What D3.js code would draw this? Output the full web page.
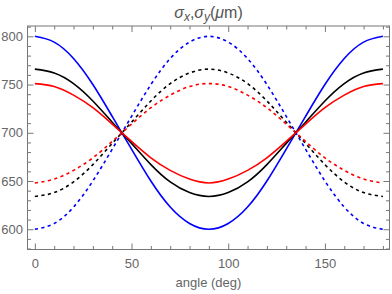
<!DOCTYPE html>
<html>
<head>
<meta charset="utf-8">
<script src="https://cdn.jsdelivr.net/npm/d3@7"></script>
<style>
  body { margin: 0; background: #fff; }
  svg { display: block; font-family: "Liberation Sans", Arial, sans-serif; }
  .axis path { display: none; }
  .axis line { stroke: #777; }
  .axis text { fill: #666; font-size: 13px; }
</style>
</head>
<body>
<svg id="plot01" width="392" height="294"></svg>
<script>
// angles sampled every 10 deg
var angles = [0, 10, 20, 30, 40, 50, 60, 70, 80, 90, 100, 110, 120, 130, 140, 150, 160, 170, 180];

// sigma_x (solid) and sigma_y (dashed), in um
var blueX  = [800, 794, 777, 750, 717, 683, 650, 623, 606, 600, 606, 623, 650, 683, 717, 750, 777, 794, 800];
var blueY  = [600, 606, 623, 650, 683, 717, 750, 777, 794, 800, 794, 777, 750, 717, 683, 650, 623, 606, 600];
var blackX = [766, 762, 751, 733, 711, 689, 667, 649, 638, 634, 638, 649, 667, 689, 711, 733, 751, 762, 766];
var blackY = [634, 638, 649, 667, 689, 711, 733, 751, 762, 766, 762, 751, 733, 711, 689, 667, 649, 638, 634];
var redX   = [751, 748, 739, 726, 709, 691, 674, 661, 652, 648, 652, 661, 674, 691, 709, 726, 739, 748, 751];
var redY   = [648, 652, 661, 674, 691, 709, 726, 739, 748, 751, 748, 739, 726, 709, 691, 674, 661, 652, 648];

var xTicks = [0, 50, 100, 150];
var yTicks = [600, 650, 700, 750, 800];

var series = [
  { values: blueY, color: '#0000ff', dashed: true },
  { values: blackY, color: '#000000', dashed: true },
  { values: redY, color: '#ff0000', dashed: true },
  { values: blueX, color: '#0000ff', dashed: false },
  { values: blackX, color: '#000000', dashed: false },
  { values: redX, color: '#ff0000', dashed: false }
];

// plot box (note: "top" is reserved on window, so prefix everything)
var plotL = 27.5, plotR = 389.5, plotT = 26, plotB = 249.5;

var svg = d3.select('#plot01');

var x = d3.scaleLinear().domain([-3.8, 183.4]).range([plotL, plotR]);
var y = d3.scaleLinear().domain([579, 810.7]).range([plotB, plotT]);

var xMinor = d3.range(0, 181, 10).filter(function(v) { return v % 50 !== 0; });
var yMinor = d3.range(580, 811, 10).filter(function(v) { return v % 50 !== 0; });

function addAxis(axisFn, scale, pos, values, size, labels) {
  var a = axisFn(scale).tickValues(values).tickSizeInner(-size).tickSizeOuter(0).tickPadding(labels ? 5 : 0);
  if (!labels) a.tickFormat('');
  var g = svg.append('g').attr('class', 'axis').attr('transform', pos);
  g.call(a);
  return g;
}

// bottom
var gb = addAxis(d3.axisBottom, x, 'translate(0,' + plotB + ')', xTicks, 6, true);
gb.selectAll('text').attr('y', 6).attr('dy', '0.95em');
addAxis(d3.axisBottom, x, 'translate(0,' + plotB + ')', xMinor, 3.5, false);
// top
addAxis(d3.axisTop, x, 'translate(0,' + plotT + ')', xTicks, 6, false);
addAxis(d3.axisTop, x, 'translate(0,' + plotT + ')', xMinor, 3.5, false);
// left
var gl = addAxis(d3.axisLeft, y, 'translate(' + plotL + ',0)', yTicks, 6, true);
gl.selectAll('text').attr('x', -4.5);
addAxis(d3.axisLeft, y, 'translate(' + plotL + ',0)', yMinor, 3.5, false);
// right
addAxis(d3.axisRight, y, 'translate(' + plotR + ',0)', yTicks, 6, false);
addAxis(d3.axisRight, y, 'translate(' + plotR + ',0)', yMinor, 3.5, false);

// frame
svg.append('rect')
  .attr('x', plotL).attr('y', plotT)
  .attr('width', plotR - plotL).attr('height', plotB - plotT)
  .attr('fill', 'none').attr('stroke', '#777').attr('stroke-width', 1);

var line = d3.line()
  .x(function(d, i) { return x(angles[i]); })
  .y(function(d) { return y(d); })
  .curve(d3.curveNatural);

svg.append('g').selectAll('path')
  .data(series)
  .enter()
  .append('path')
  .attr('d', function(d) { return line(d.values); })
  .attr('fill', 'none')
  .attr('stroke', function(d) { return d.color; })
  .attr('stroke-width', 1.6)
  .attr('stroke-dasharray', function(d) { return d.dashed ? '3.2,3.4' : null; });

// title
var title = svg.append('text')
  .attr('x', (plotL + plotR) / 2)
  .attr('y', 18)
  .attr('text-anchor', 'middle')
  .style('font-size', '16px')
  .style('fill', '#555');
title.append('tspan').style('font-style', 'italic').text('σ');
title.append('tspan').style('font-style', 'italic').style('font-size', '12px').attr('dy', 3).text('x');
title.append('tspan').attr('dy', -3).text(',');
title.append('tspan').style('font-style', 'italic').text('σ');
title.append('tspan').style('font-style', 'italic').style('font-size', '12px').attr('dy', 3).text('y');
title.append('tspan').attr('dy', -3).text('(');
title.append('tspan').style('font-style', 'italic').text('μ');
title.append('tspan').text('m)');

// x label
svg.append('text')
  .attr('x', (plotL + plotR) / 2)
  .attr('y', 287)
  .attr('text-anchor', 'middle')
  .style('font-size', '13px')
  .style('fill', '#666')
  .text('angle (deg)');
</script>
</body>
</html>
